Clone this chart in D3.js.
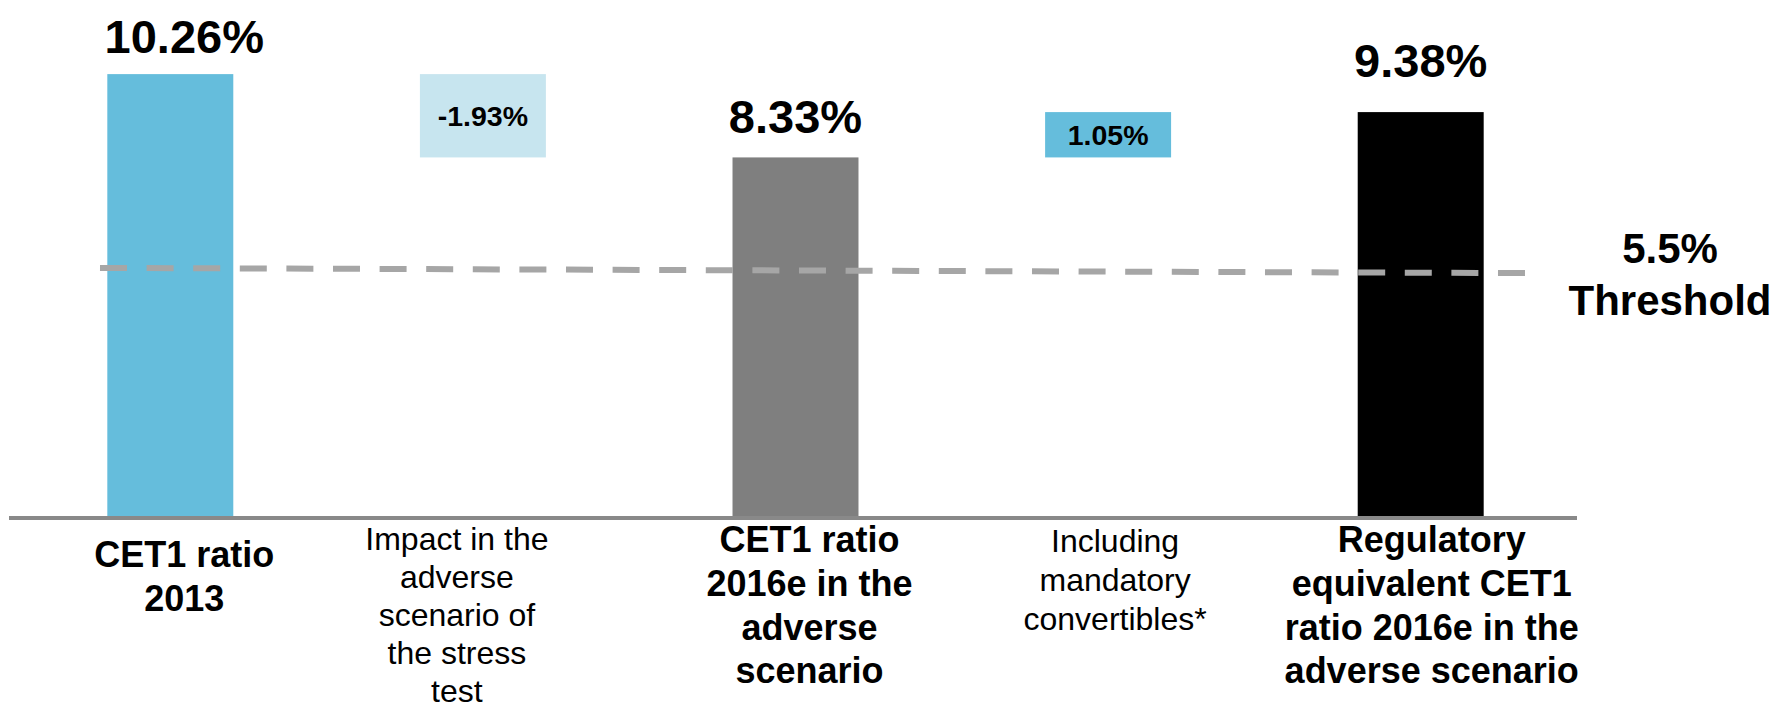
<!DOCTYPE html>
<html>
<head>
<meta charset="utf-8">
<script src="https://cdn.jsdelivr.net/npm/d3@7"></script>
<style>
  html, body { margin: 0; padding: 0; background: #fff; }
  svg { display: block; font-family: "Liberation Sans", Arial, Helvetica, sans-serif; }
</style>
</head>
<body>
<svg id="chart" width="1776" height="710"></svg>
<script>
// ---- data ----
const categories = ["c2013", "impact", "c2016", "convertibles", "regulatory"];
const categoryLabels = [
  ["CET1 ratio", "2013"],
  ["Impact in the", "adverse", "scenario of", "the stress", "test"],
  ["CET1 ratio", "2016e in the", "adverse", "scenario"],
  ["Including", "mandatory", "convertibles*"],
  ["Regulatory", "equivalent CET1", "ratio 2016e in the", "adverse scenario"]
];
const values = [10.26, -1.93, 8.33, 1.05, 9.38];
const barTypes = ["total", "delta", "total", "delta", "total"];
const valueLabels = ["10.26%", "-1.93%", "8.33%", "1.05%", "9.38%"];
const thresholdValue = 5.5;
const thresholdLine = [5.77, 5.65]; // as drawn (start, end), slight slope in the original
const thresholdLabel = ["5.5%", "Threshold"];

// ---- layout / style ----
const barColors = ["#65bddc", "#c7e5ef", "#7f7f7f", "#65bddc", "#000000"];
const labelBold = [true, false, true, false, true];
const labelDx = [14, -26, 14, 7, 11];
const labelFirstBaseline = [567, 550, 552, 552, 552];
const labelLineHeight = [43.8, 38, 43.8, 38.8, 43.8];
const valueDx = [14, 0, 0, 0, 0];
const valueGap = [21, 0, 24, 0, 35];

const svg = d3.select("#chart");

const x = d3.scaleBand()
  .domain(categories)
  .range([14, 1577])
  .paddingInner(0.597)
  .paddingOuter(0.2985);

const y = d3.scaleLinear().domain([0, 12]).range([517, -1]);

// compute waterfall extents
let running = 0;
const bars = values.map((v, i) => {
  let lo, hi;
  if (barTypes[i] === "total") { lo = 0; hi = v; running = v; }
  else { const start = running; running = start + v; lo = Math.min(start, running); hi = Math.max(start, running); }
  return { cat: categories[i], lo, hi, i };
});

// bars
svg.append("g").selectAll("rect").data(bars).join("rect")
  .attr("x", d => x(d.cat))
  .attr("width", x.bandwidth())
  .attr("y", d => y(d.hi))
  .attr("height", d => y(d.lo) - y(d.hi))
  .attr("fill", d => barColors[d.i]);

// threshold dashed line
const lineX0 = 100, lineX1 = 1527;
svg.append("line")
  .attr("x1", lineX0).attr("x2", lineX1)
  .attr("y1", y(thresholdLine[0])).attr("y2", y(thresholdLine[1]))
  .attr("stroke", "#a6a6a6")
  .attr("stroke-width", 6)
  .attr("stroke-dasharray", "27 19.6");

// axis baseline
svg.append("line")
  .attr("x1", x.range()[0] - 5).attr("x2", x.range()[1])
  .attr("y1", y(0) + 1).attr("y2", y(0) + 1)
  .attr("stroke", "#898989").attr("stroke-width", 4);

// value labels
svg.append("g").selectAll("text").data(bars).join("text")
  .attr("text-anchor", "middle")
  .attr("x", d => x(d.cat) + x.bandwidth() / 2 + valueDx[d.i])
  .attr("y", d => barTypes[d.i] === "total" ? y(d.hi) - valueGap[d.i] : (y(d.hi) + y(d.lo)) / 2)
  .attr("dy", d => barTypes[d.i] === "total" ? 0 : "0.35em")
  .attr("font-size", d => barTypes[d.i] === "total" ? 47 : 28.5)
  .attr("font-weight", "bold")
  .attr("fill", "#000")
  .text(d => valueLabels[d.i]);

// category labels
const lg = svg.append("g").selectAll("text").data(categories).join("text")
  .attr("text-anchor", "middle")
  .attr("font-size", (d, i) => labelBold[i] ? 36 : 32)
  .attr("font-weight", (d, i) => labelBold[i] ? "bold" : "normal")
  .attr("fill", "#000")
  .attr("transform", (d, i) => `translate(${x(d) + x.bandwidth() / 2 + labelDx[i]},${labelFirstBaseline[i]})`);
lg.each(function(d, i) {
  const lh = labelLineHeight[i];
  d3.select(this).selectAll("tspan").data(categoryLabels[i]).join("tspan")
    .attr("x", 0)
    .attr("y", (t, j) => j * lh)
    .text(t => t);
});

// threshold label
svg.append("g").selectAll("text").data(thresholdLabel).join("text")
  .attr("text-anchor", "middle")
  .attr("x", 1670)
  .attr("y", (d, i) => y(thresholdValue) - 17 + i * 52)
  .attr("font-size", 42)
  .attr("font-weight", "bold")
  .attr("fill", "#000")
  .text(d => d);
</script>
</body>
</html>
